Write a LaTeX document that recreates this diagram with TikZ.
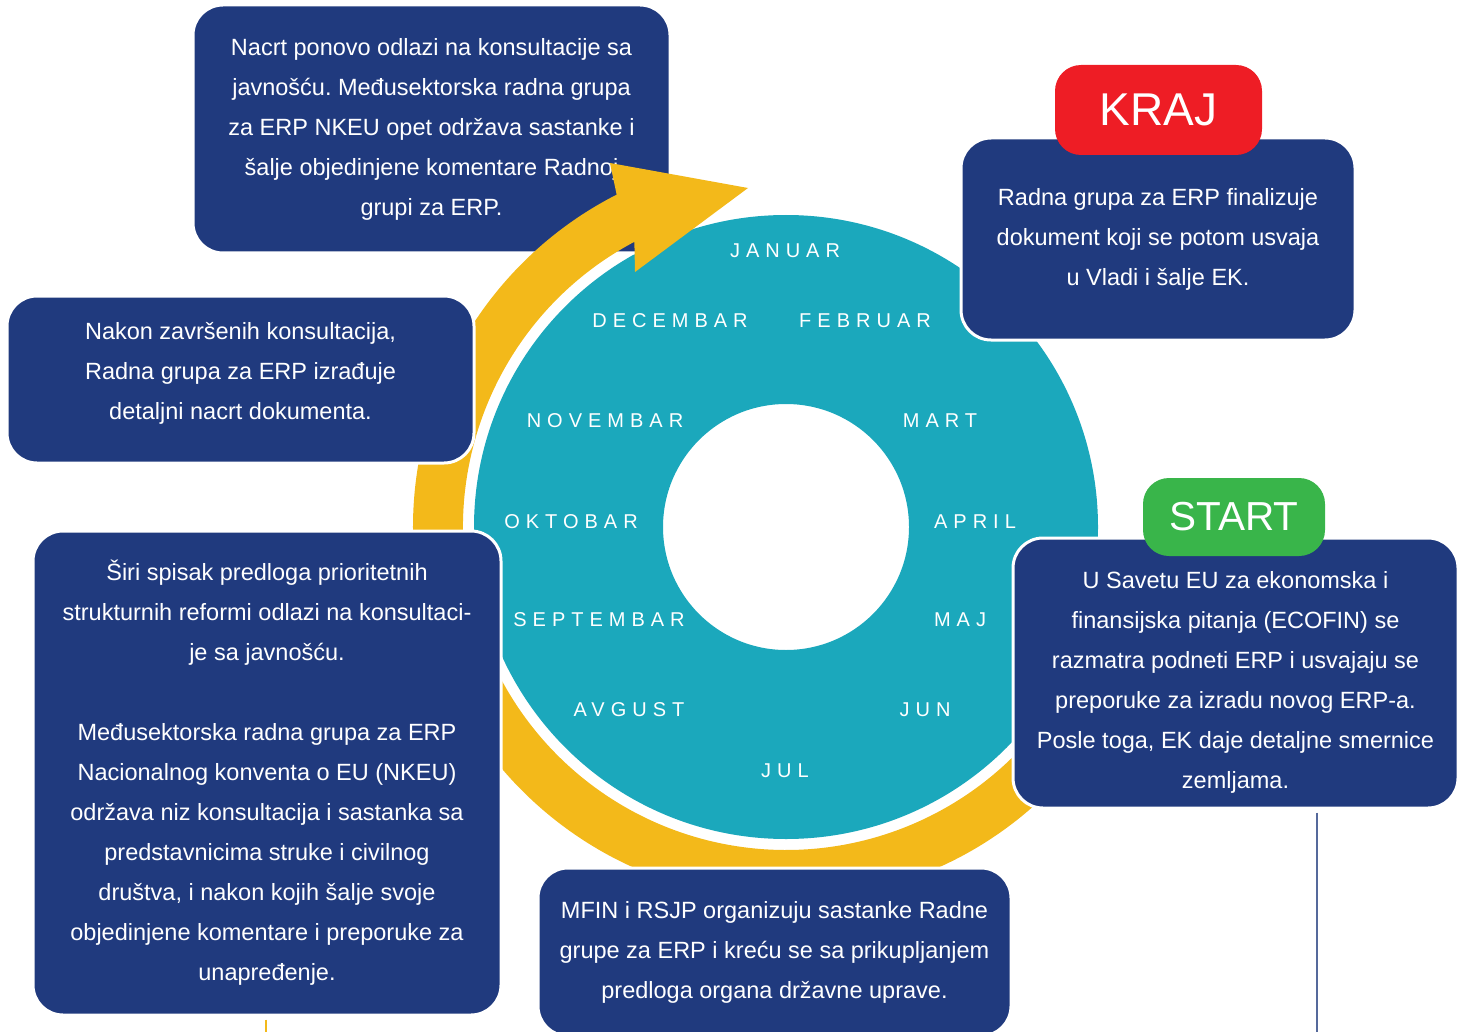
\documentclass[tikz,border=0pt]{standalone}
\usepackage{fontspec}
\setmainfont{Liberation Sans}
\newfontfamily\mesecfont[LetterSpace=30]{Liberation Sans}
\usetikzlibrary{positioning}
\definecolor{tamnoplava}{RGB}{32,58,126}
\definecolor{tirkiz}{RGB}{27,168,188}
\definecolor{zuta}{RGB}{243,185,26}
\definecolor{crvena}{RGB}{238,29,37}
\definecolor{zelena}{RGB}{57,181,74}
\definecolor{linija}{RGB}{85,105,155}
\frenchspacing
\tikzset{
    %Define style for boxes
    okvir/.style={
           rectangle,
           rounded corners=30pt,
           fill=tamnoplava,
           draw=white, line width=3pt,
           text=white,
           align=center,
           font=\fontsize{23.5}{40}\selectfont},
    %Define style for box text placed on its own
    tekst/.style={
           text=white,
           align=center,
           font=\fontsize{23.5}{40}\selectfont},
    %Define style for month labels
    mesec/.style={
           text=white,
           font=\mesecfont\fontsize{20}{24}\selectfont},
    %Define style for start/end labels
    oznaka/.style={
           rectangle,
           rounded corners=26pt,
           text=white}
}
\begin{document}
\begin{tikzpicture}[x=1pt,y=-1pt]
\useasboundingbox (0,0) rectangle (1469,1032);
\clip (0,0) rectangle (1469,1032);

 %ring
\coordinate (C) at (786,527);
\fill[tirkiz,even odd rule] (C) circle[radius=312] (C) circle[radius=123];

\node[okvir, minimum width=477pt, minimum height=248pt] (nacrt) at (431.5,129)
  {Nacrt ponovo odlazi na konsultacije sa\\ javnošću. Međusektorska radna grupa\\ za ERP NKEU opet održava sastanke i\\ šalje objedinjene komentare Radnoj\\ grupi za ERP.};

 %arrow
\begin{scope}[shift={(C)}]
\fill[zuta] (40:373) arc[start angle=40, end angle=243, radius=373]
   -- (-176,-364) -- (-38,-339) -- (-151,-255) -- (242:323)
   arc[start angle=242, end angle=40, radius=323] -- cycle;
\end{scope}

 %months
\foreach \ime/\px/\py in {JANUAR/785/251, DECEMBAR/670/321, FEBRUAR/865/321,
    NOVEMBAR/605/421, MART/940/421, OKTOBAR/571/522, APRIL/975/522,
    SEPTEMBAR/599/620, MAJ/960/620, AVGUST/629/710, JUN/925/710, JUL/785/771}
  \node[mesec] (m-\ime) at (\px,\py) {\ime};

 %boxes
\node[okvir, minimum width=467pt, minimum height=167pt] (nacrtdet) at (240.5,379.5) {};
\node[tekst] (nacrtdettxt) at ([yshift=6pt]nacrtdet.center)
  {Nakon završenih konsultacija,\\ Radna grupa za ERP izrađuje\\ detaljni nacrt dokumenta.};
\node[okvir, minimum width=468pt, minimum height=484pt] (spisak) at (267,773)
  {Širi spisak predloga prioritetnih\\ strukturnih reformi odlazi na konsultaci-\\ je sa javnošću.\\ ~\\ Međusektorska radna grupa za ERP\\ Nacionalnog konventa o EU (NKEU)\\ održava niz konsultacija i sastanka sa\\ predstavnicima struke i civilnog\\ društva, i nakon kojih šalje svoje\\ objedinjene komentare i preporuke za\\ unapređenje.};
\node[okvir, minimum width=473pt, minimum height=168pt] (mfin) at (774.5,952)
  {MFIN i RSJP organizuju sastanke Radne\\ grupe za ERP i kreću se sa prikupljanjem\\ predloga organa državne uprave.};
\node[okvir, minimum width=394pt, minimum height=202pt] (final) at (1158,239)
  {Radna grupa za ERP finalizuje\\ dokument koji se potom usvaja\\ u Vladi i šalje EK.};
\node[okvir, minimum width=445pt, minimum height=270pt] (ecofin) at (1235.5,673) {};
\node[tekst] (ecofintxt) at ([yshift=-9pt]ecofin.center)
  {U Savetu EU za ekonomska i\\ finansijska pitanja (ECOFIN) se\\ razmatra podneti ERP i usvajaju se\\ preporuke za izradu novog ERP-a.\\ Posle toga, EK daje detaljne smernice\\ zemljama.};

 %labels
\node[oznaka, fill=crvena, minimum width=207pt, minimum height=90pt,
      font=\fontsize{46}{50}\selectfont] (kraj) at (1158.5,110) {KRAJ};
\node[oznaka, fill=zelena, minimum width=182pt, minimum height=78pt,
      font=\fontsize{40.5}{44}\selectfont] (start) at (1234,517) {START};

 %lines
\coordinate (ecofinkraj) at (1317,1032);
\draw[linija, line width=1.3pt] (ecofin.south -| ecofinkraj) ++(0,3) -- (ecofinkraj);
\coordinate (spisakkraj) at (266,1032);
\draw[zuta, line width=1.5pt] (spisak.south -| spisakkraj) ++(0,3) -- (spisakkraj);
\end{tikzpicture}
\end{document}
